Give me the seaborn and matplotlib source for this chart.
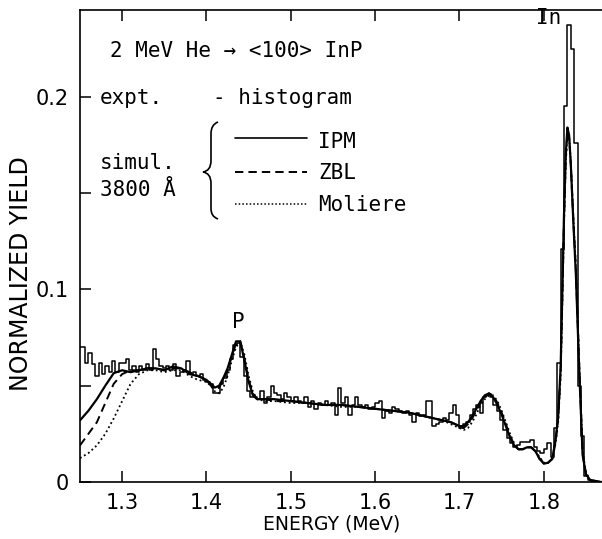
import numpy as np
import pandas as pd
import matplotlib
matplotlib.use("Agg")
import matplotlib.pyplot as plt
from matplotlib.path import Path
from matplotlib.patches import PathPatch
from matplotlib.lines import Line2D
import seaborn as sns

# measured spectrum (histogram), bins of 4 keV starting at 1.248 MeV
BIN_START = 1.248
BIN_WIDTH = 0.004
expt_counts = [
    0.070, 0.070, 0.062, 0.067, 0.061, 0.055, 0.062, 0.056, 0.060, 0.057, 0.063, 0.057, 0.062,
    0.062, 0.064, 0.058, 0.060, 0.057, 0.060, 0.058, 0.061, 0.058, 0.069, 0.064, 0.060, 0.059,
    0.060, 0.058, 0.061, 0.055, 0.057, 0.058, 0.063, 0.056, 0.057, 0.055, 0.056, 0.053, 0.052,
    0.051, 0.046, 0.046, 0.051, 0.054, 0.058, 0.064, 0.071, 0.072, 0.065, 0.055, 0.047, 0.044,
    0.044, 0.043, 0.047, 0.041, 0.044, 0.050, 0.046, 0.045, 0.043, 0.046, 0.044, 0.042, 0.044,
    0.042, 0.041, 0.044, 0.039, 0.042, 0.038, 0.041, 0.040, 0.042, 0.040, 0.041, 0.035, 0.049,
    0.041, 0.044, 0.035, 0.040, 0.044, 0.040, 0.039, 0.040, 0.038, 0.039, 0.041, 0.042, 0.033,
    0.037, 0.036, 0.039, 0.038, 0.037, 0.036, 0.037, 0.035, 0.031, 0.036, 0.034, 0.035, 0.042,
    0.042, 0.029, 0.030, 0.031, 0.033, 0.032, 0.036, 0.040, 0.035, 0.028, 0.030, 0.031, 0.035,
    0.038, 0.040, 0.036, 0.044, 0.045, 0.044, 0.040, 0.037, 0.032, 0.027, 0.023, 0.020, 0.018,
    0.019, 0.021, 0.021, 0.021, 0.022, 0.018, 0.016, 0.015, 0.017, 0.020,
    0.013, 0.028, 0.062, 0.121, 0.195, 0.237, 0.225, 0.176, 0.050, 0.024, 0.003, 0.001, 0.0, 0.0, 0.0,
]

# simulations (3800 A)
energy_sim = [
    1.250, 1.260, 1.270, 1.280, 1.290, 1.300, 1.310, 1.320, 1.330, 1.340,
    1.350, 1.360, 1.370, 1.380, 1.390, 1.400, 1.405, 1.410, 1.415, 1.420,
    1.425, 1.430, 1.435, 1.440, 1.445, 1.450, 1.455, 1.460, 1.470, 1.480,
    1.500, 1.520, 1.540, 1.560, 1.580, 1.600, 1.620, 1.640, 1.660, 1.680,
    1.690, 1.700, 1.705, 1.710, 1.715, 1.720, 1.725, 1.730, 1.735, 1.740,
    1.745, 1.750, 1.755, 1.760, 1.765, 1.770, 1.775, 1.780, 1.785, 1.790,
    1.795, 1.800, 1.805, 1.810, 1.814, 1.817, 1.820, 1.822, 1.824, 1.826,
    1.828, 1.830, 1.832, 1.835, 1.838, 1.842, 1.846, 1.850, 1.855, 1.868,
]
ipm = [
    0.032, 0.037, 0.043, 0.050, 0.0565, 0.058, 0.057, 0.058, 0.059, 0.059,
    0.058, 0.060, 0.059, 0.056, 0.055, 0.053, 0.051, 0.049, 0.050, 0.054,
    0.059, 0.066, 0.073, 0.073, 0.063, 0.052, 0.045, 0.043, 0.043, 0.043,
    0.042, 0.041, 0.040, 0.040, 0.039, 0.038, 0.037, 0.036, 0.034, 0.032,
    0.031, 0.029, 0.029, 0.031, 0.034, 0.038, 0.042, 0.045, 0.046, 0.044,
    0.040, 0.035, 0.029, 0.023, 0.019, 0.017, 0.017, 0.018, 0.018, 0.016,
    0.012, 0.0095, 0.010, 0.012, 0.022, 0.034, 0.060, 0.100, 0.140, 0.170,
    0.184, 0.180, 0.165, 0.135, 0.108, 0.058, 0.014, 0.004, 0.001, 0.0,
]
zbl = [
    0.019, 0.025, 0.031, 0.041, 0.051, 0.056, 0.058, 0.058, 0.059, 0.059,
    0.058, 0.059, 0.059, 0.057, 0.055, 0.053, 0.050, 0.048, 0.049, 0.053,
    0.058, 0.065, 0.072, 0.073, 0.064, 0.053, 0.046, 0.043, 0.043, 0.042,
    0.042, 0.041, 0.040, 0.040, 0.039, 0.038, 0.037, 0.036, 0.034, 0.032,
    0.031, 0.029, 0.028, 0.030, 0.033, 0.037, 0.041, 0.044, 0.046, 0.045,
    0.041, 0.036, 0.030, 0.024, 0.019, 0.017, 0.017, 0.018, 0.018, 0.016,
    0.012, 0.010, 0.010, 0.012, 0.021, 0.033, 0.058, 0.097, 0.137, 0.168,
    0.182, 0.179, 0.165, 0.136, 0.110, 0.060, 0.015, 0.004, 0.001, 0.0,
]
moliere = [
    0.0124, 0.015, 0.019, 0.025, 0.033, 0.042, 0.051, 0.056, 0.058, 0.058,
    0.057, 0.058, 0.058, 0.055, 0.053, 0.052, 0.050, 0.047, 0.046, 0.049,
    0.055, 0.063, 0.070, 0.073, 0.066, 0.055, 0.047, 0.043, 0.042, 0.042,
    0.041, 0.041, 0.040, 0.039, 0.039, 0.038, 0.037, 0.036, 0.034, 0.032,
    0.030, 0.028, 0.027, 0.028, 0.031, 0.035, 0.040, 0.043, 0.045, 0.045,
    0.042, 0.037, 0.031, 0.025, 0.020, 0.017, 0.017, 0.018, 0.018, 0.016,
    0.013, 0.010, 0.010, 0.012, 0.020, 0.031, 0.055, 0.094, 0.134, 0.165,
    0.180, 0.179, 0.166, 0.138, 0.112, 0.062, 0.016, 0.005, 0.001, 0.0,
]

x_ticks = [1.3, 1.4, 1.5, 1.6, 1.7, 1.8]
y_ticks = [0, 0.1, 0.2]
y_tick_labels = ["0", "0.1", "0.2"]

W, H = 602, 539
sns.set_theme(style="ticks")
plt.rcParams["font.family"] = ["DejaVu Sans"]
MONO = "DejaVu Sans Mono"

fig = plt.figure(figsize=(W / 100, H / 100), dpi=100)
ax = fig.add_axes([80 / W, 1 - 482 / H, 1 - 80 / W, (482 - 10) / H])

# histogram of the experiment
edges = BIN_START + BIN_WIDTH * np.arange(len(expt_counts) + 1)
expt = pd.DataFrame({"energy": edges[:-1] + BIN_WIDTH / 2, "yield": expt_counts})
sns.histplot(data=expt, x="energy", weights="yield", bins=edges.tolist(), element="step",
             fill=False, color="black", linewidth=1.1, ax=ax)

# simulated curves
sns.lineplot(x=energy_sim, y=ipm, color="black", linewidth=1.6, ax=ax)
sns.lineplot(x=energy_sim, y=zbl, color="black", linewidth=1.4,
             linestyle=(0, (4.3, 2.6)), ax=ax)
sns.lineplot(x=energy_sim, y=moliere, color="black", linewidth=1.3,
             linestyle=(0, (1, 1.6)), ax=ax)

ax.set_xlim(1.25, 1.869)
ax.set_ylim(0, 0.245)
ax.set_xticks(x_ticks)
ax.set_yticks(y_ticks)
ax.set_yticklabels(y_tick_labels)
ax.set_yticks([0.05, 0.15], minor=True)
ax.tick_params(axis="both", which="both", direction="in", length=8, width=1.1,
               labelsize=15, pad=8, colors="black")
ax.tick_params(axis="x", top=True)
for side in ["left", "bottom", "top"]:
    ax.spines[side].set_linewidth(1.2)
    ax.spines[side].set_color("black")
ax.spines["right"].set_visible(False)

ax.set_xlabel("ENERGY (MeV)", fontsize=13.5, color="black")
ax.xaxis.set_label_coords((332 - 80) / 522, (482 - 515) / 472)
ax.set_ylabel("NORMALIZED YIELD", fontsize=17, color="black")
ax.yaxis.set_label_coords((33 - 80) / 522, (482 - 274) / 472)


def put(x, y, s, **kw):
    fig.text(x / W, 1 - y / H, s, family=MONO, fontsize=15, va="center",
             color="black", **kw)


put(110, 51, "2 MeV He \u2192 <100> InP")
put(100, 98, "expt.")
put(213, 98, "- histogram")
put(100, 163, "simul.")
put(100, 190, "3800 \u00c5")
put(318, 142, "IPM")
put(318, 173, "ZBL")
put(318, 205, "Moliere")
put(238, 322, "P", ha="center")
put(549, 18, "In", ha="center")

# legend samples
for yy, ls, lw in [(138, "-", 1.2), (172, (0, (4.3, 2.6)), 1.4), (204, (0, (1, 1.4)), 1.1)]:
    fig.add_artist(Line2D([235 / W, 307 / W], [1 - yy / H, 1 - yy / H],
                          color="black", linestyle=ls, linewidth=lw))

# curly bracket
pts = [(218, 122), (213, 124), (211, 128), (211, 134),
       (211, 160), (211, 168), (208, 171), (203, 172),
       (208, 173), (211, 176), (211, 184),
       (211, 208), (211, 214), (213, 217), (218, 219)]
codes = [Path.MOVETO, Path.CURVE4, Path.CURVE4, Path.CURVE4,
         Path.LINETO, Path.CURVE4, Path.CURVE4, Path.CURVE4,
         Path.CURVE4, Path.CURVE4, Path.CURVE4,
         Path.LINETO, Path.CURVE4, Path.CURVE4, Path.CURVE4]
verts = [(px / W, 1 - py / H) for px, py in pts]
fig.add_artist(PathPatch(Path(verts, codes), transform=fig.transFigure,
                         fill=False, edgecolor="black", linewidth=1.2))

fig.savefig("out.png", dpi=100, facecolor="white")
